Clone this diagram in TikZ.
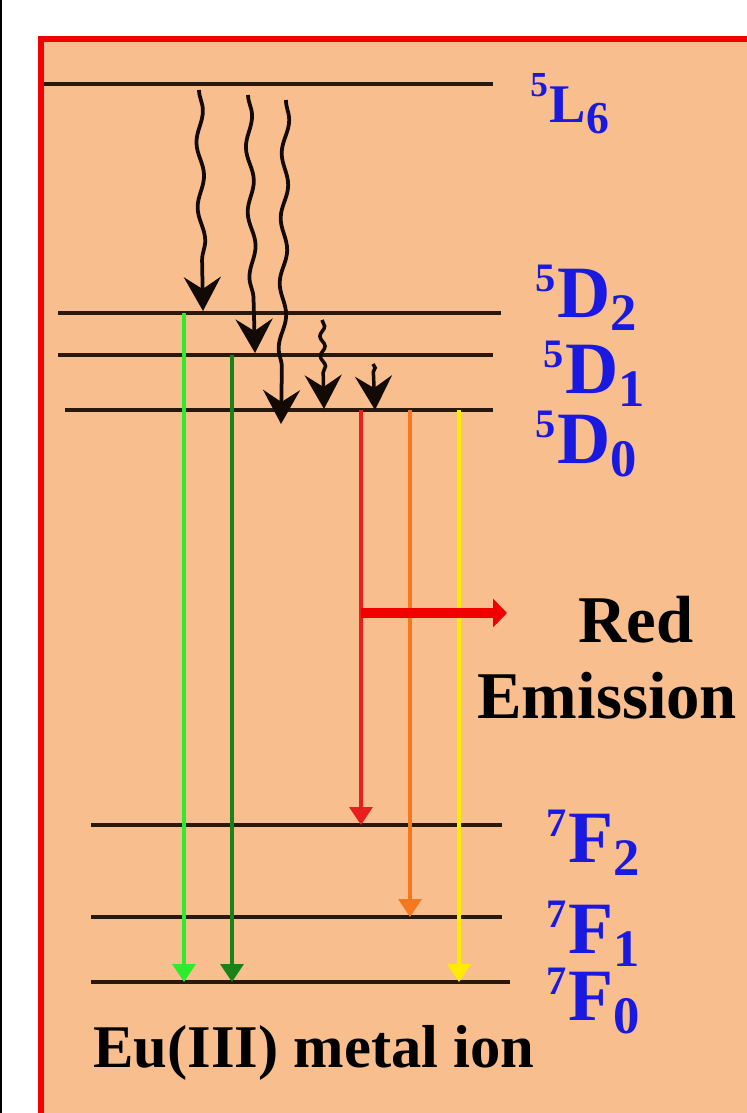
\documentclass[tikz,border=0pt]{standalone}
\usepackage{fontspec}
\setmainfont{Liberation Serif}
\usetikzlibrary{arrows.meta,decorations.pathmorphing}
\definecolor{peach}{RGB}{248,190,142}
\definecolor{framered}{RGB}{240,0,0}
\definecolor{lblue}{RGB}{25,25,225}
\definecolor{lvlline}{RGB}{40,25,15}
\definecolor{wavecol}{RGB}{20,10,5}
\definecolor{lgreen}{RGB}{45,235,45}
\definecolor{dgreen}{RGB}{25,130,25}
\definecolor{emred}{RGB}{235,30,30}
\definecolor{emorange}{RGB}{245,120,30}
\definecolor{emyellow}{RGB}{255,235,0}
\newcommand\tsbig[3]{{\fontsize{42}{44}\selectfont\raisebox{5.1mm}{\fontsize{23}{23}\selectfont #1}\kern0.4mm #2\raisebox{-2.7mm}{\fontsize{30}{30}\selectfont #3}}}
\newcommand\tssmall[3]{{\fontsize{31}{33}\selectfont\raisebox{5.2mm}{\fontsize{20}{20}\selectfont #1}\kern0.4mm #2\raisebox{-2.3mm}{\fontsize{26}{26}\selectfont #3}}}
\begin{document}
\begin{tikzpicture}[x=0.02cm,y=-0.02cm,
  level/.style={line width=0.65mm,lvlline},
  wavy/.style={line width=0.75mm,wavecol,decorate,
    decoration={snake,amplitude=0.7mm,segment length=13mm,post length=7mm},
    -{Stealth[length=6.8mm,width=7.4mm,inset=2.4mm]}},
  shortwavy/.style={line width=0.7mm,wavecol,decorate,
    decoration={snake,amplitude=0.5mm,segment length=4mm,post length=6.8mm},
    -{Stealth[length=6.8mm,width=7.4mm,inset=2.4mm]}},
  emit/.style={line width=0.7mm,-{Triangle[length=3.6mm,width=4.6mm]}},
  termlbl/.style={anchor=base west,inner sep=0pt,text=lblue,font=\bfseries},
  blacklbl/.style={anchor=base west,inner sep=0pt,text=black,font=\bfseries\fontsize{38}{40}\selectfont}]
\useasboundingbox (0,0) rectangle (747,1113);
\clip (0,0) rectangle (747,1113);
\fill[white] (0,0) rectangle (747,1113);
\fill[black] (0,0) rectangle (2.5,1113);
\filldraw[fill=peach,draw=framered,line width=1.3mm] (41,39) rectangle (790,1160);
% levels
\coordinate (L6a) at (44,84);  \coordinate (L6b) at (493,84);
\coordinate (D2a) at (58,313); \coordinate (D2b) at (501,313);
\coordinate (D1a) at (58,355); \coordinate (D1b) at (493,355);
\coordinate (D0a) at (65,410); \coordinate (D0b) at (493,410);
\coordinate (F2a) at (91,825); \coordinate (F2b) at (502,825);
\coordinate (F1a) at (91,917); \coordinate (F1b) at (502,917);
\coordinate (F0a) at (91,982); \coordinate (F0b) at (510,982);
\foreach \l in {L6,D2,D1,D0,F2,F1,F0} \draw[level] (\l a) -- (\l b);
% nonradiative relaxations
\coordinate (w1s) at (199,90);  \coordinate (w1e) at (203,311);
\coordinate (w2s) at (248,95);  \coordinate (w2e) at (255,353);
\coordinate (w3s) at (286,100); \coordinate (w3e) at (281,424);
\coordinate (w4s) at (322,320); \coordinate (w4e) at (324,409);
\coordinate (w5s) at (373,364); \coordinate (w5e) at (375,410);
\draw[wavy] (w1s) -- (w1e);
\draw[wavy] (w2s) -- (w2e);
\draw[wavy] (w3s) -- (w3e);
\draw[shortwavy] (w4s) -- (w4e);
\draw[shortwavy,decoration={snake,amplitude=0.4mm,segment length=2.5mm,post length=6.8mm}] (w5s) -- (w5e);
% emissions
\coordinate (g1s) at (184,313); \coordinate (g1e) at (184,982);
\coordinate (g2s) at (232,355); \coordinate (g2e) at (232,982);
\coordinate (rs) at (361,410);  \coordinate (re) at (361,825);
\coordinate (os) at (410,410);  \coordinate (oe) at (410,917);
\coordinate (ys) at (459,410);  \coordinate (ye) at (459,982);
\draw[emit,lgreen] (g1s) -- (g1e);
\draw[emit,dgreen] (g2s) -- (g2e);
\draw[emit,emred] (rs) -- (re);
\draw[emit,emorange] (os) -- (oe);
\draw[emit,emyellow] (ys) -- (ye);
\coordinate (ra) at (361,613); \coordinate (rb) at (507,613);
\draw[framered,line width=2mm,-{Triangle[length=2.8mm,width=5.6mm]}] (ra) -- (rb);
% labels
\node[termlbl] (tL6) at (530,122) {\tssmall{5}{L}{6}};
\node[termlbl] (tD2) at (535,317) {\tsbig{5}{D}{2}};
\node[termlbl] (tD1) at (543,393) {\tsbig{5}{D}{1}};
\node[termlbl] (tD0) at (535,463) {\tsbig{5}{D}{0}};
\node[termlbl] (tF2) at (546,862) {\tsbig{7}{F}{2}};
\node[termlbl] (tF1) at (546,953) {\tsbig{7}{F}{1}};
\node[termlbl] (tF0) at (546,1020) {\tsbig{7}{F}{0}};
\node[blacklbl] (red) at (578,642) {Red};
\node[blacklbl] (emis) at (477,718) {Emission};
\node[anchor=base west,inner sep=0pt,font=\bfseries\fontsize{34.5}{36}\selectfont] (eu) at (93,1067) {Eu(III) metal ion};
\end{tikzpicture}
\end{document}
